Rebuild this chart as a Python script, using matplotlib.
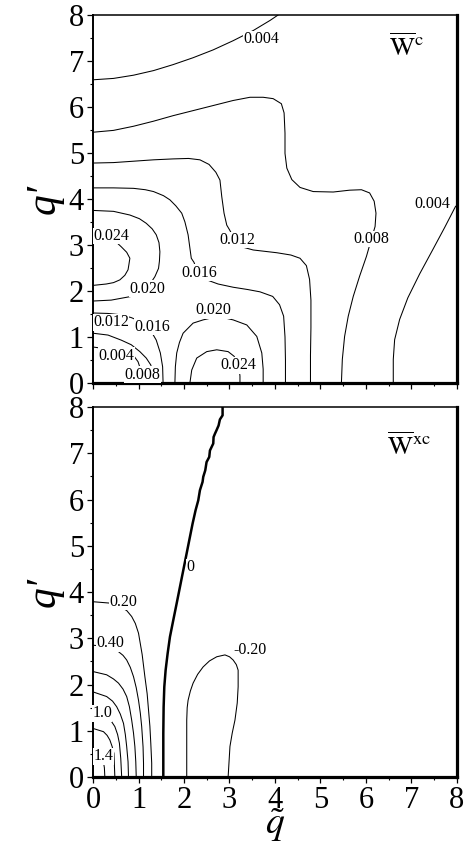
import numpy as np
from matplotlib import pyplot as plt
from matplotlib.ticker import MultipleLocator

plt.rcParams['font.family'] = ['Liberation Serif', 'DejaVu Serif']
plt.rcParams['mathtext.fontset'] = 'stix'

# ---- W^c contour lines (q~, q') ----
wc_004_top_x = [0, 0.45, 0.89, 1.33, 1.76, 2.20, 2.64, 3.08, 3.52, 3.89, 4.07]
wc_004_top_y = [6.59, 6.62, 6.69, 6.79, 6.92, 7.07, 7.24, 7.44, 7.66, 7.88, 8.0]

wc_004_right_x = [6.60, 6.60, 6.63, 6.74, 6.92, 7.18, 7.47, 7.73, 7.97]
wc_004_right_y = [0, 0.51, 0.94, 1.38, 1.85, 2.37, 2.90, 3.38, 3.84]

wc_008_x = [0, 0.45, 0.89, 1.33, 1.76, 2.20, 2.64, 3.08, 3.45, 3.74, 3.96, 4.14, 4.20,
            4.22, 4.22, 4.26, 4.37, 4.55, 4.84, 5.28, 5.64, 5.90, 6.08, 6.18, 6.22,
            6.20, 6.12, 6.01, 5.86, 5.72, 5.61, 5.53, 5.48, 5.46]
wc_008_y = [5.45, 5.49, 5.58, 5.69, 5.81, 5.92, 6.03, 6.14, 6.21, 6.21, 6.18, 6.07, 5.87,
            5.43, 4.99, 4.67, 4.42, 4.25, 4.16, 4.15, 4.19, 4.20, 4.13, 3.95, 3.69,
            3.40, 3.13, 2.75, 2.32, 1.88, 1.45, 1.01, 0.51, 0]

wc_012_x = [0, 0.45, 0.89, 1.33, 1.76, 2.10, 2.35, 2.55, 2.70, 2.79, 2.83, 2.88, 2.94,
            3.00, 3.10, 3.30, 3.52, 4.04, 4.35, 4.55, 4.69, 4.76, 4.79, 4.79, 4.78, 4.78]
wc_012_y = [4.78, 4.79, 4.82, 4.85, 4.87, 4.88, 4.85, 4.75, 4.58, 4.41, 4.05, 3.69, 3.43,
            3.33, 3.15, 2.95, 2.89, 2.83, 2.78, 2.71, 2.55, 2.25, 1.80, 1.20, 0.60, 0]

wc_016_x = [0, 0.45, 0.89, 1.15, 1.33, 1.55, 1.69, 1.82, 1.95, 2.02, 2.09, 2.16, 2.22,
            2.30, 2.50, 2.75, 3.08, 3.40, 3.67, 3.95, 4.10, 4.19, 4.22, 4.23, 4.23]
wc_016_y = [4.24, 4.24, 4.23, 4.20, 4.16, 4.07, 3.98, 3.85, 3.69, 3.50, 3.22, 2.71, 2.62,
            2.40, 2.24, 2.15, 2.08, 2.03, 1.98, 1.88, 1.70, 1.45, 1.00, 0.50, 0]

wc_020_left_x = [0, 0.45, 0.81, 1.02, 1.17, 1.30, 1.39, 1.45, 1.47, 1.46, 1.44, 1.36,
                 1.22, 1.0, 0.84, 0.40, 0]
wc_020_left_y = [3.75, 3.73, 3.65, 3.57, 3.47, 3.35, 3.22, 3.05, 2.85, 2.65, 2.49, 2.31,
                 2.10, 1.93, 1.88, 1.80, 1.78]

wc_024_left_x = [0, 0.30, 0.50, 0.62, 0.74, 0.81, 0.79, 0.77, 0.70, 0.59, 0.45, 0.29, 0]
wc_024_left_y = [3.20, 3.16, 3.07, 2.96, 2.84, 2.71, 2.58, 2.46, 2.34, 2.24, 2.18, 2.15, 2.12]

wc_020_bottom_x = [1.80, 1.81, 1.84, 1.90, 1.98, 2.20, 2.42, 2.64, 2.86, 3.08, 3.38, 3.60,
                   3.71, 3.74, 3.74]
wc_020_bottom_y = [0, 0.35, 0.65, 0.88, 1.08, 1.30, 1.37, 1.42, 1.42, 1.37, 1.26, 1.01,
                   0.65, 0.30, 0]

wc_024_bottom_x = [2.13, 2.17, 2.28, 2.50, 2.72, 2.97, 3.10, 3.20, 3.23, 3.23]
wc_024_bottom_y = [0, 0.28, 0.54, 0.68, 0.72, 0.68, 0.58, 0.40, 0.15, 0]

wc_016_inner_x = [0, 0.33, 0.62, 0.84, 1.05, 1.25, 1.39, 1.48, 1.53, 1.54]
wc_016_inner_y = [1.52, 1.51, 1.48, 1.42, 1.33, 1.17, 0.93, 0.65, 0.35, 0]

wc_012_inner_x = [0, 0.33, 0.62, 0.84, 1.03, 1.17, 1.27, 1.32, 1.34]
wc_012_inner_y = [1.08, 1.04, 0.93, 0.83, 0.68, 0.54, 0.39, 0.20, 0]

wc_008_inner_x = [0, 0.30, 0.60, 0.88, 0.99, 1.05, 1.08]
wc_008_inner_y = [0.78, 0.74, 0.68, 0.61, 0.46, 0.28, 0]

wc_labels = ["0.004", "0.008", "0.004", "0.012", "0.016", "0.024", "0.020",
             "0.020", "0.024", "0.012", "0.016", "0.004", "0.008"]
wc_label_x = [3.70, 6.11, 7.46, 3.17, 2.33, 0.40, 1.20, 2.64, 3.19, 0.40, 1.31, 0.52, 1.09]
wc_label_y = [7.47, 3.13, 3.90, 3.11, 2.40, 3.19, 2.05, 1.58, 0.38, 1.32, 1.22, 0.59, 0.18]

# ---- W^xc contour lines ----
wxc_020_x = [0, 0.37, 0.59, 0.74, 0.85, 0.93, 1.00, 1.08, 1.14, 1.19, 1.22, 1.25, 1.27, 1.29, 1.29]
wxc_020_y = [3.79, 3.76, 3.68, 3.60, 3.47, 3.32, 3.11, 2.65, 2.17, 1.80, 1.45, 1.10, 0.73, 0.30, 0]

wxc_040_x = [0, 0.30, 0.45, 0.56, 0.66, 0.74, 0.82, 0.89, 0.95, 1.00, 1.04, 1.07, 1.10, 1.11, 1.11]
wxc_040_y = [2.85, 2.82, 2.78, 2.71, 2.63, 2.53, 2.37, 2.17, 1.93, 1.66, 1.38, 1.09, 0.65, 0.30, 0]

wxc_060_x = [0, 0.30, 0.45, 0.56, 0.66, 0.74, 0.80, 0.85, 0.89, 0.92, 0.94, 0.95]
wxc_060_y = [2.28, 2.21, 2.12, 2.03, 1.90, 1.74, 1.52, 1.23, 0.95, 0.66, 0.33, 0]

wxc_080_x = [0, 0.30, 0.43, 0.52, 0.60, 0.67, 0.71, 0.74, 0.77, 0.78]
wxc_080_y = [1.84, 1.74, 1.64, 1.52, 1.36, 1.16, 0.92, 0.66, 0.33, 0]

wxc_100_x = [0, 0.30, 0.40, 0.48, 0.54, 0.58, 0.61, 0.63]
wxc_100_y = [1.42, 1.30, 1.21, 1.09, 0.92, 0.73, 0.40, 0]

wxc_120_x = [0, 0.23, 0.31, 0.37, 0.42, 0.46, 0.48]
wxc_120_y = [1.05, 0.98, 0.90, 0.80, 0.66, 0.51, 0]

wxc_140_x = [0, 0.15, 0.20, 0.22, 0.25, 0.26]
wxc_140_y = [0.55, 0.50, 0.44, 0.38, 0.20, 0]

wxc_zero_x = [1.545, 1.545, 1.552, 1.567, 1.596, 1.640, 1.691, 1.764, 1.838, 1.911, 1.984,
              2.057, 2.130, 2.189, 2.255, 2.313, 2.350, 2.408, 2.423, 2.467, 2.496, 2.555,
              2.570, 2.643, 2.650, 2.679, 2.716, 2.760, 2.789, 2.848, 2.848]
wxc_zero_y = [0, 0.94, 1.51, 1.95, 2.31, 2.67, 3.03, 3.39, 3.75, 4.11, 4.47,
              4.83, 5.19, 5.48, 5.77, 5.98, 6.20, 6.38, 6.49, 6.63, 6.81, 6.92,
              7.06, 7.21, 7.35, 7.42, 7.50, 7.60, 7.73, 7.82, 8.0]

wxc_neg020_x = [2.06, 2.06, 2.06, 2.07, 2.09, 2.14, 2.20, 2.30, 2.42, 2.56, 2.72, 2.90,
                3.00, 3.08, 3.15, 3.19, 3.19, 3.17, 3.12, 3.06, 3.01, 2.99, 2.97]
wxc_neg020_y = [0, 0.60, 1.23, 1.50, 1.66, 1.86, 2.03, 2.22, 2.38, 2.51, 2.60, 2.64,
                2.60, 2.53, 2.43, 2.31, 1.95, 1.60, 1.23, 0.95, 0.66, 0.33, 0]

wxc_labels = ["0.20", "0.40", "1.0", "1.4", "0", "-0.20"]
wxc_label_x = [0.67, 0.37, 0.20, 0.23, 2.13, 3.46]
wxc_label_y = [3.79, 2.89, 1.38, 0.45, 4.54, 2.74]

wc_lines = [(wc_004_top_x, wc_004_top_y), (wc_004_right_x, wc_004_right_y),
            (wc_008_x, wc_008_y), (wc_012_x, wc_012_y), (wc_016_x, wc_016_y),
            (wc_020_left_x, wc_020_left_y), (wc_024_left_x, wc_024_left_y),
            (wc_020_bottom_x, wc_020_bottom_y), (wc_024_bottom_x, wc_024_bottom_y),
            (wc_016_inner_x, wc_016_inner_y), (wc_012_inner_x, wc_012_inner_y),
            (wc_008_inner_x, wc_008_inner_y)]
wxc_lines = [(wxc_020_x, wxc_020_y), (wxc_040_x, wxc_040_y), (wxc_060_x, wxc_060_y),
             (wxc_080_x, wxc_080_y), (wxc_100_x, wxc_100_y), (wxc_120_x, wxc_120_y),
             (wxc_140_x, wxc_140_y), (wxc_neg020_x, wxc_neg020_y)]


def style_axes(ax, show_xlabels):
    ax.set_xlim(0, 8)
    ax.set_ylim(0, 8)
    ax.xaxis.set_major_locator(MultipleLocator(1))
    ax.yaxis.set_major_locator(MultipleLocator(1))
    ax.xaxis.set_minor_locator(MultipleLocator(0.5))
    ax.yaxis.set_minor_locator(MultipleLocator(0.5))
    ax.tick_params(which='major', direction='out', length=4.5, width=0.9, labelsize=22, pad=2)
    ax.tick_params(which='minor', direction='out', length=2.5, width=0.8)
    ax.tick_params(axis='x', labelbottom=show_xlabels)
    ax.spines['top'].set_linewidth(1.1)
    ax.spines['left'].set_linewidth(1.4)
    ax.spines['right'].set_linewidth(2.3)
    ax.spines['bottom'].set_linewidth(2.3)
    ax.set_ylabel("q\u2032", fontsize=30, fontstyle='italic', labelpad=4)


def add_labels(ax, texts, xs, ys):
    for t, x, y in zip(texts, xs, ys):
        ax.text(x, y, t, ha='center', va='center', fontsize=11.5, zorder=5,
                bbox=dict(facecolor='white', edgecolor='none', pad=0.2))


fig = plt.figure(figsize=(4.77, 8.49), dpi=100)
ax1 = fig.add_axes([0.195, 0.549, 0.763, 0.4334])
ax2 = fig.add_axes([0.195, 0.0848, 0.763, 0.4358])

# Top panel: W^c
for xs, ys in wc_lines:
    ax1.plot(xs, ys, color='black', linewidth=0.75)
add_labels(ax1, wc_labels, wc_label_x, wc_label_y)
style_axes(ax1, False)
ax1.text(6.9, 7.3, r'$\overline{\mathrm{W}}^{\mathrm{c}}$', fontsize=19, ha='center', va='center')

# Bottom panel: W^xc
for xs, ys in wxc_lines:
    ax2.plot(xs, ys, color='black', linewidth=0.75)
ax2.plot(wxc_zero_x, wxc_zero_y, color='black', linewidth=1.8)
add_labels(ax2, wxc_labels, wxc_label_x, wxc_label_y)
style_axes(ax2, True)
ax2.set_xlabel(r'$\tilde{q}$', fontsize=27, labelpad=-6)
ax2.text(6.95, 7.15, r'$\overline{\mathrm{W}}^{\mathrm{xc}}$', fontsize=19, ha='center', va='center')

fig.savefig('out.png', dpi=100)
